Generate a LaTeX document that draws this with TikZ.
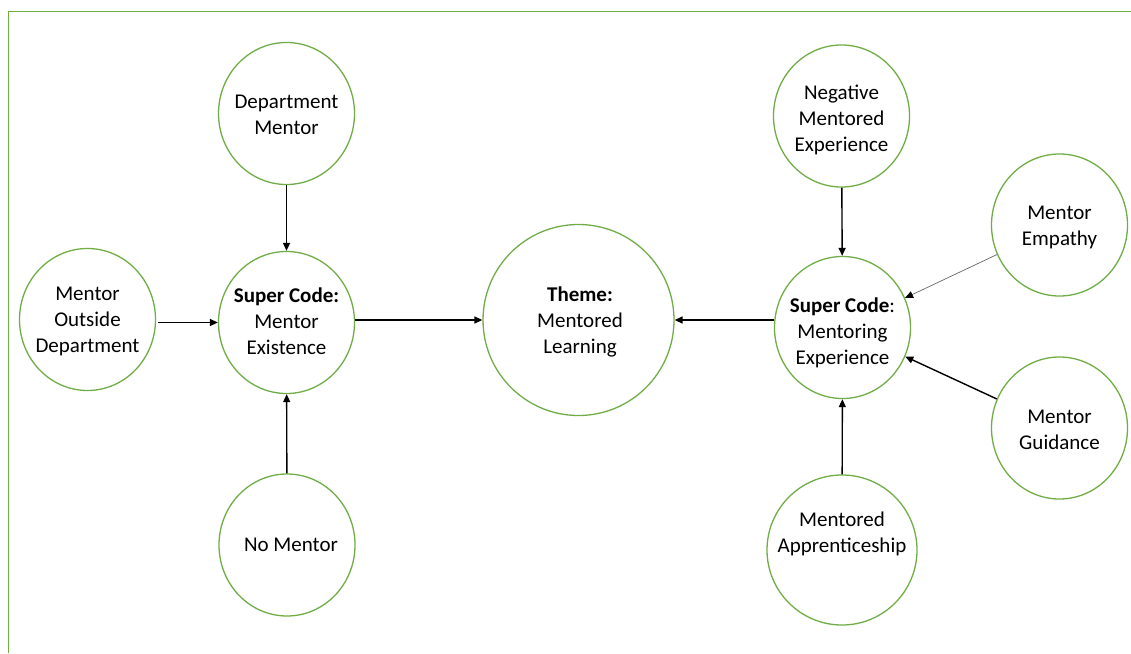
\documentclass[tikz,border=0pt]{standalone}
\usepackage{fontspec}
\setmainfont{Carlito}
\usetikzlibrary{arrows.meta,shapes.geometric}
\definecolor{leaf}{RGB}{112,173,71}
\begin{document}
\begin{tikzpicture}[x=1pt,y=-1pt,
  bubble/.style={ellipse, draw=leaf, line width=1.3pt, inner sep=0pt,
    minimum width=136pt, minimum height=142pt},
  caption/.style={align=center, inner sep=0pt, font=\fontsize{21}{26}\selectfont},
  link/.style={-{Triangle[length=8pt,width=7pt]}, line width=1.4pt, black},
  thinlink/.style={line width=0.7pt, black!60,
    arrows={-{Triangle[length=8pt,width=7pt,color=black]}}}
]
\useasboundingbox (0,0) rectangle (1131,653);
% outer frame
\draw[leaf, line width=1.5pt] (1131,11.5) -- (8.5,11.5) -- (8.5,653);

% left cluster
\node[bubble] (dept) at (286.5,113.5) {};
\node[caption] (dept-t) at (286.5,115) {Department\\Mentor};
\node[bubble] (outside) at (87.5,319.5) {};
\node[caption] (outside-t) at (87.5,321) {Mentor\\Outside\\Department};
\node[bubble] (exist) at (286.5,322.5) {};
\node[caption] (exist-t) at (286.5,321) {\textbf{Super Code:}\\Mentor\\Existence};
\node[bubble] (none) at (287,545) {};
\node[caption] (none-t) at (291,545) {No Mentor};

% central theme
\node[bubble, minimum width=191pt, minimum height=191pt] (theme) at (578.5,320) {};
\node[caption] (theme-t) at (580,322) {\textbf{Theme:}\\Mentored\\Learning};

% right cluster
\node[bubble] (neg) at (841.5,116) {};
\node[caption] (neg-t) at (841.5,120) {Negative\\Mentored\\Experience};
\node[bubble] (emp) at (1059.5,225) {};
\node[caption] (emp-t) at (1059.5,227) {Mentor\\Empathy};
\node[bubble] (exp) at (842.5,327.5) {};
\node[caption] (exp-t) at (842.5,333) {\textbf{Super Code}:\\Mentoring\\Experience};
\node[bubble] (guid) at (1059.5,428) {};
\node[caption] (guid-t) at (1059.5,430) {Mentor\\Guidance};
\node[bubble, minimum width=150pt, minimum height=150pt] (appr) at (842,550) {};
\node[caption] (appr-t) at (842,534) {Mentored\\Apprenticeship};

% connectors
\draw[link] (dept) -- (exist);
\draw[link, shorten <=2pt] (outside.east |- exist.west) -- (exist.west);
\draw[link] (none) -- (exist);
\draw[link] (exist.east |- theme.west) -- (theme.west);
\draw[link] (exp.west |- theme.east) -- (theme.east);
\draw[link] (neg) -- (exp);
\draw[thinlink] (emp) -- (exp);
\draw[link] (guid) -- (exp);
\draw[link] (appr) -- (exp);
\end{tikzpicture}
\end{document}
